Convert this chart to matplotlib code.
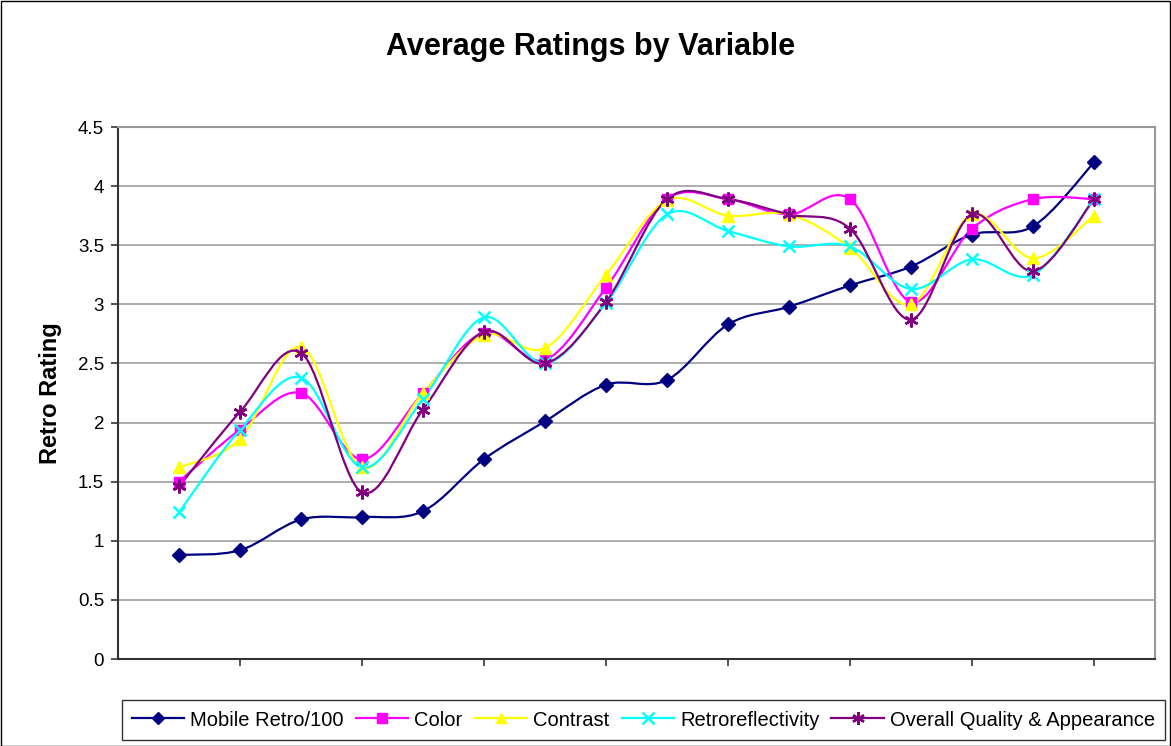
import numpy as np
import matplotlib
matplotlib.use("Agg")
import matplotlib.pyplot as plt
from matplotlib.path import Path
from matplotlib.patches import PathPatch, Rectangle
from matplotlib.lines import Line2D

plt.rcParams["font.family"] = ["Liberation Sans", "DejaVu Sans"]

x_vals = np.arange(1, 17)

mobile_retro = [0.88, 0.92, 1.18, 1.20, 1.25, 1.69, 2.01, 2.32, 2.36, 2.83,
                2.98, 3.16, 3.32, 3.59, 3.66, 4.20]
color = [1.50, 1.94, 2.25, 1.69, 2.25, 2.76, 2.53, 3.14, 3.89, 3.89,
         3.76, 3.89, 3.02, 3.64, 3.89, 3.89]
contrast = [1.62, 1.86, 2.64, 1.62, 2.25, 2.74, 2.63, 3.25, 3.88, 3.75,
            3.76, 3.48, 3.00, 3.76, 3.39, 3.75]
retroreflectivity = [1.24, 1.94, 2.38, 1.62, 2.20, 2.89, 2.50, 3.01, 3.76, 3.62,
                     3.49, 3.49, 3.13, 3.38, 3.25, 3.89]
overall = [1.46, 2.09, 2.59, 1.41, 2.11, 2.77, 2.50, 3.02, 3.89, 3.89,
           3.76, 3.64, 2.87, 3.76, 3.28, 3.89]

series_names = ["Mobile Retro/100", "Color", "Contrast", "Retroreflectivity",
                "Overall Quality & Appearance"]
series_values = [mobile_retro, color, contrast, retroreflectivity, overall]
series_colors = ["#000080", "#FF00FF", "#FFFF00", "#00FFFF", "#800080"]
series_markers = ["D", "s", "^", "x", (6, 2, 0)]
marker_sizes = [7, 7.5, 8.5, 9, 10]


def smooth_path(xs, ys):
    # excel-like smoothed line: cubic bezier through every point
    pts = np.column_stack([xs, ys]).astype(float)
    n = len(pts)
    verts = [pts[0]]
    codes = [Path.MOVETO]
    for i in range(n - 1):
        p0 = pts[i - 1] if i > 0 else pts[i]
        p1 = pts[i]
        p2 = pts[i + 1]
        p3 = pts[i + 2] if i + 2 < n else pts[i + 1]
        c1 = p1 + (p2 - p0) / 6.0
        c2 = p2 - (p3 - p1) / 6.0
        verts += [c1, c2, p2]
        codes += [Path.CURVE4] * 3
    return Path(verts, codes)


fig = plt.figure(figsize=(11.71, 7.46), dpi=100)
ax = fig.add_axes([118 / 1171, 1 - 659 / 746, (1155 - 118) / 1171, (659 - 127) / 746])

for name, vals, col, mk, ms in zip(series_names, series_values, series_colors,
                                   series_markers, marker_sizes):
    ax.add_patch(PathPatch(smooth_path(x_vals, vals), facecolor="none",
                           edgecolor=col, lw=1.6, zorder=3))
    ax.plot(x_vals, vals, linestyle="none", marker=mk, color=col, ms=ms,
            mew=1.8 if mk in ("x", (6, 2, 0)) else 1, zorder=4, label=name)

ax.set_xlim(0, 17)
ax.set_ylim(0, 4.5)
ax.set_yticks(np.arange(0, 4.51, 0.5))
ax.set_yticklabels(["0", "0.5", "1", "1.5", "2", "2.5", "3", "3.5", "4", "4.5"])
ax.set_xticks(np.arange(2, 17, 2))
ax.set_xticklabels([])
ax.tick_params(axis="both", direction="out", length=5, width=1.2, color="#333333",
               labelsize=13.5, pad=5)
ax.grid(axis="y", color="#A0A0A0", lw=1.2)
ax.set_axisbelow(True)
for side in ("top", "right"):
    ax.spines[side].set_color("#999999")
    ax.spines[side].set_linewidth(1.5)
for side in ("left", "bottom"):
    ax.spines[side].set_color("#333333")
    ax.spines[side].set_linewidth(1.5)

ax.set_ylabel("Retro Rating", fontsize=17, fontweight="bold")
ax.yaxis.set_label_coords(-0.054, 0.5)
fig.text(591 / 1171, 1 - 47 / 746, "Average Ratings by Variable", ha="center",
         va="center", fontsize=22, fontweight="bold")

# outer chart border
fig.patches.append(Rectangle((0.5 / 1171, 0.5 / 746), 1 - 1.5 / 1171, 1 - 1.5 / 746,
                             transform=fig.transFigure, fill=False, ec="black", lw=1))

handles = [Line2D([0], [0], color=c, marker=m, ms=s * 0.9, lw=1.6,
                  mew=1.8 if m in ("x", (6, 2, 0)) else 1)
           for c, m, s in zip(series_colors, series_markers, marker_sizes)]
leg = fig.legend(handles, series_names, loc="center", ncol=5,
                 bbox_to_anchor=(643.5 / 1171, 1 - 720 / 746), fontsize=14.5,
                 frameon=True, fancybox=False, edgecolor="black",
                 handlelength=2.6, handletextpad=0.3, columnspacing=0.6,
                 borderpad=0.5, borderaxespad=0)
leg.get_frame().set_linewidth(1)

fig.savefig("out.png", dpi=100)
